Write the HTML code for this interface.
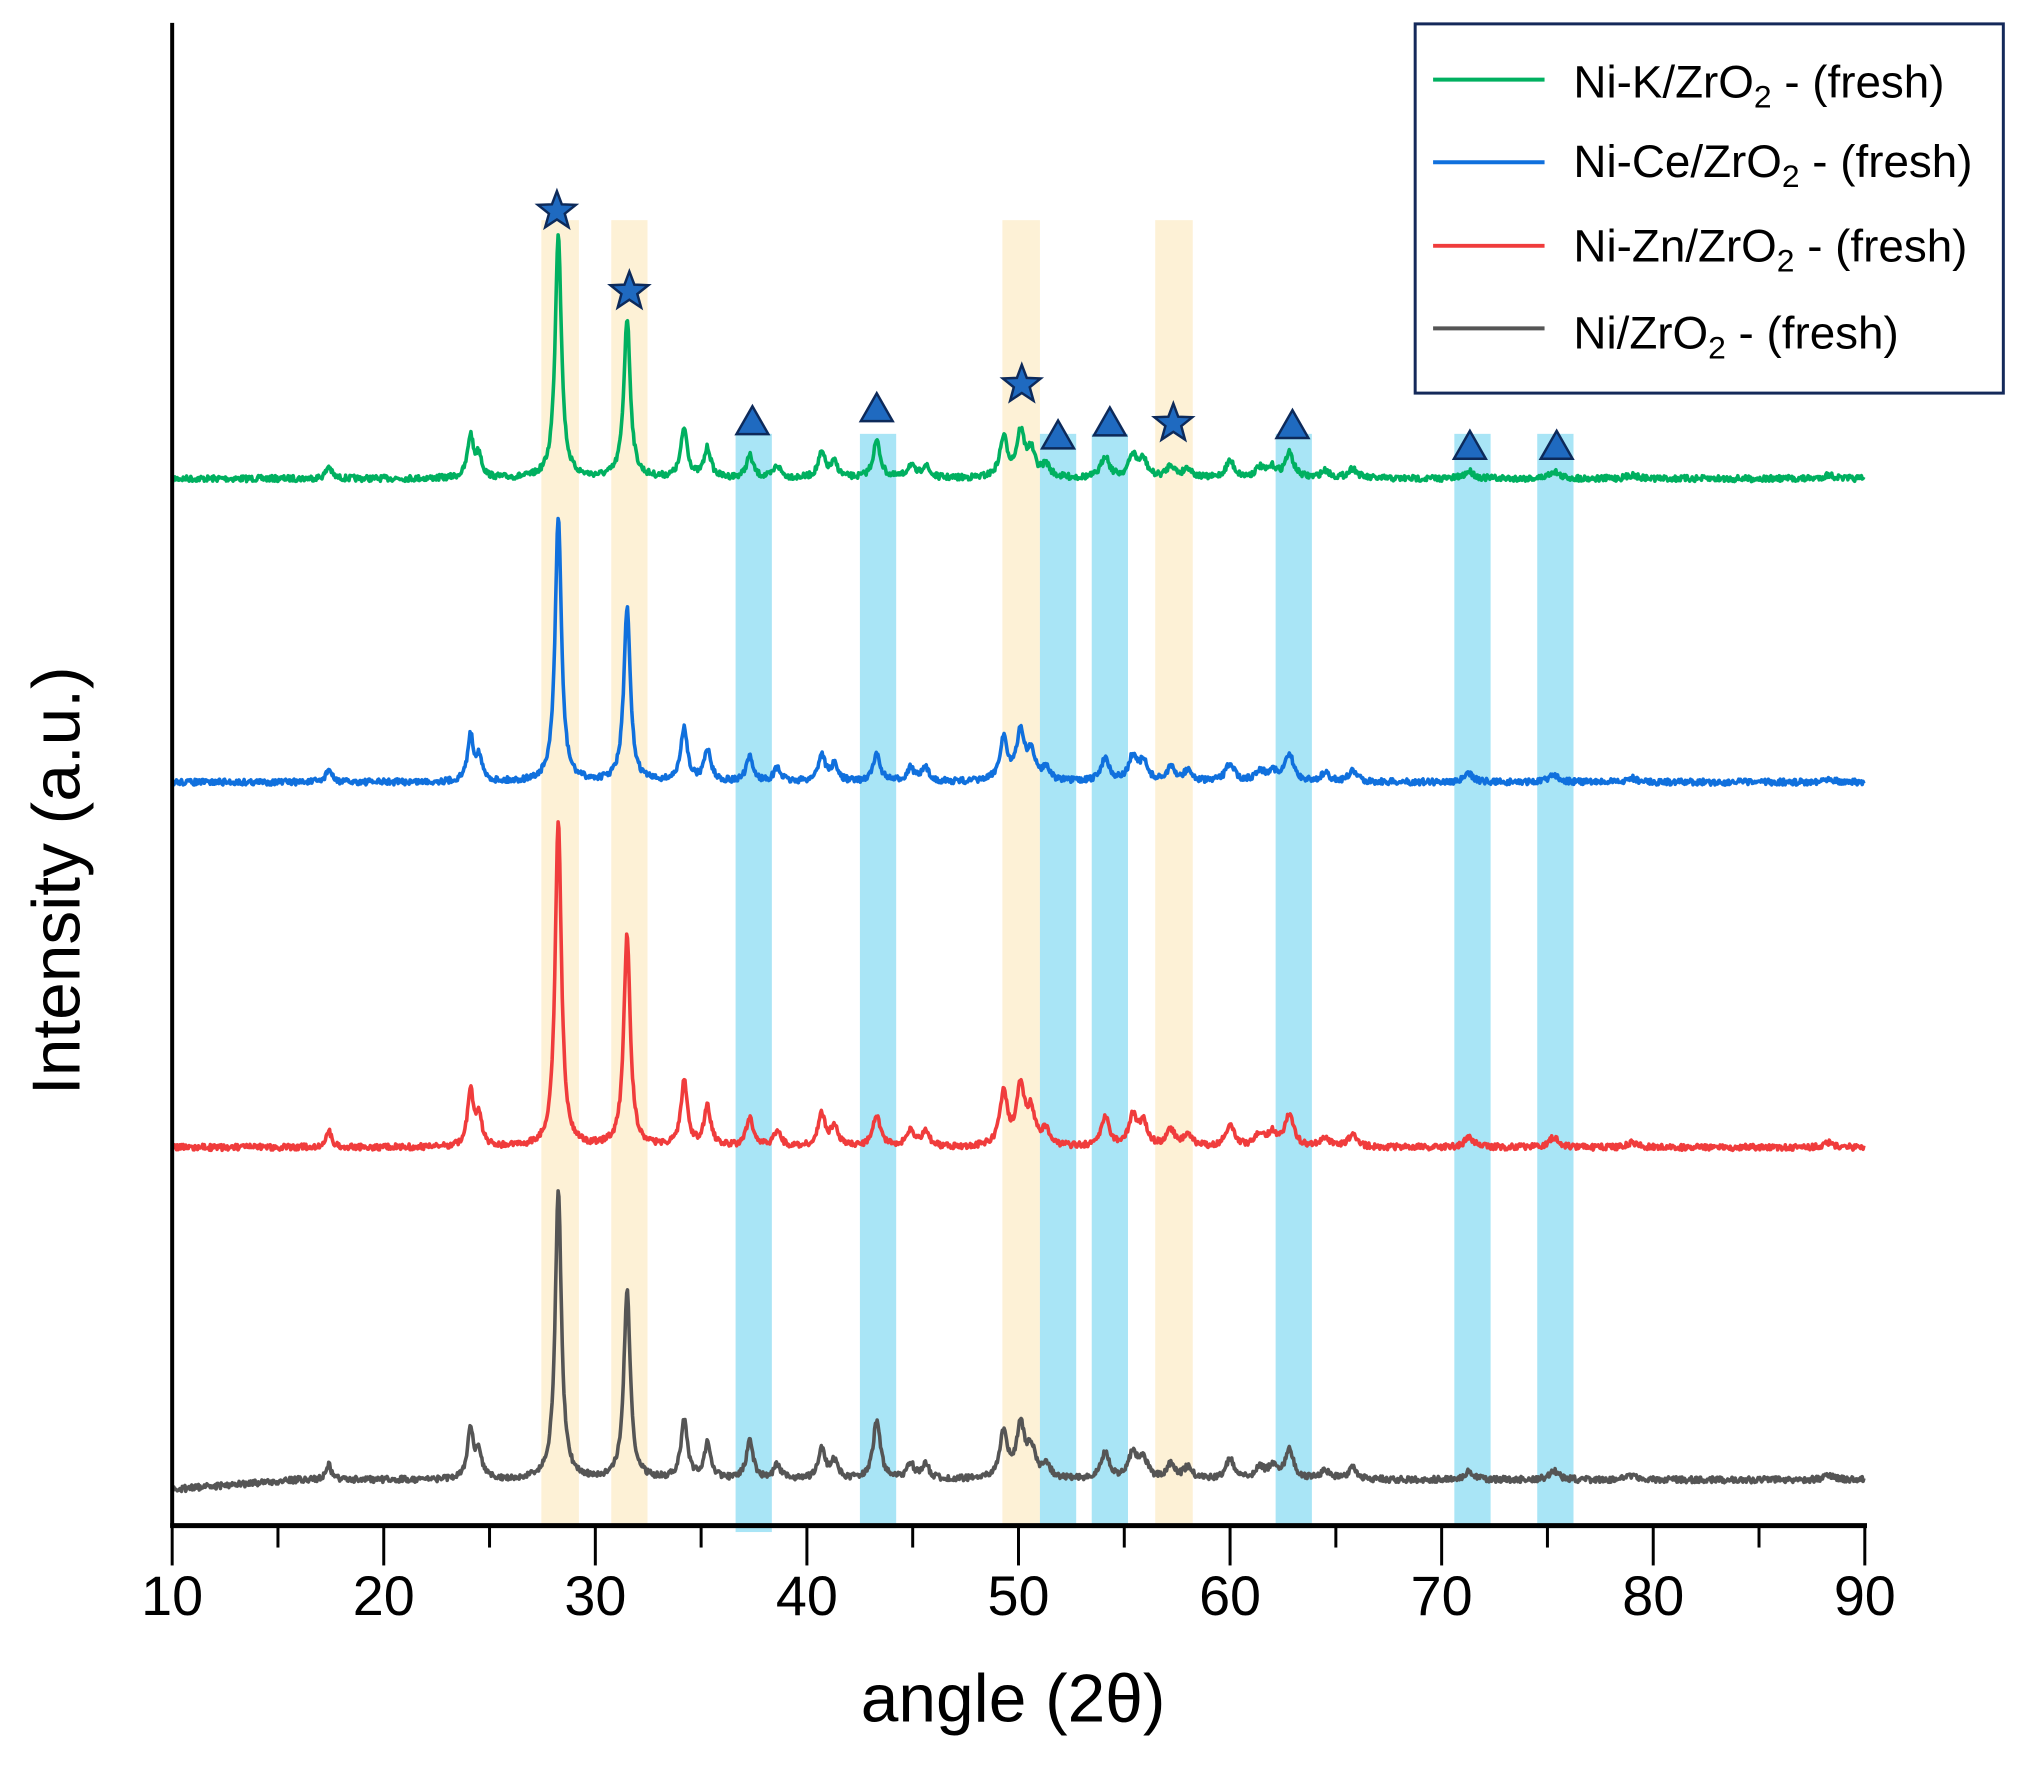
<!DOCTYPE html>
<html><head><meta charset="utf-8"><style>
html,body{margin:0;padding:0;background:#fff;}
svg{display:block;font-family:"Liberation Sans",Arial,sans-serif;}
</style></head><body>
<svg id="s" width="2030" height="1768" viewBox="0 0 2030 1768" xmlns="http://www.w3.org/2000/svg">
<g transform="scale(0.9952)">
<g id="bands"></g>
<g id="lines"></g>
<g id="marks"></g>
<line x1="173" y1="23" x2="173" y2="1535" stroke="#000" stroke-width="4"/>
<line x1="171" y1="1533" x2="1876" y2="1533" stroke="#000" stroke-width="5"/>
<g id="ticks"></g>
<text x="1018" y="1730" font-size="68" text-anchor="middle">angle (2θ)</text>
<text transform="translate(80,885) rotate(-90)" font-size="68" text-anchor="middle">Intensity (a.u.)</text>
<rect x="1422" y="24" width="591" height="371" fill="#fff" stroke="#14295a" stroke-width="3"/>
<g font-size="46">
<line x1="1440" y1="80" x2="1552" y2="80" stroke="#00b060" stroke-width="4"/>
<text x="1581" y="98">Ni-K/ZrO<tspan font-size="32" dy="10">2</tspan><tspan dy="-10"> - (fresh)</tspan></text>
<line x1="1440" y1="163" x2="1552" y2="163" stroke="#1070dd" stroke-width="4"/>
<text x="1581" y="178">Ni-Ce/ZrO<tspan font-size="32" dy="10">2</tspan><tspan dy="-10"> - (fresh)</tspan></text>
<line x1="1440" y1="247" x2="1552" y2="247" stroke="#f03c3c" stroke-width="4"/>
<text x="1581" y="263">Ni-Zn/ZrO<tspan font-size="32" dy="10">2</tspan><tspan dy="-10"> - (fresh)</tspan></text>
<line x1="1440" y1="330" x2="1552" y2="330" stroke="#555" stroke-width="4"/>
<text x="1581" y="350">Ni/ZrO<tspan font-size="32" dy="10">2</tspan><tspan dy="-10"> - (fresh)</tspan></text>
</g>
</g>
</svg>
<script>
var NS="http://www.w3.org/2000/svg";
function el(t,a,p){var e=document.createElementNS(NS,t);for(var k in a)e.setAttribute(k,a[k]);document.getElementById(p).appendChild(e);return e;}
var S=1.3013;
function X(t){return 173+(t-10)*21.26;}
[[418,447],[472,500],[774,803],[892,921]].forEach(function(b){el('rect',{x:b[0]*S,y:170*S,width:(b[1]-b[0])*S,height:(1180-170)*S,fill:'#fdf1d6'},'bands');});
[[568,596,1183],[664,692,1180],[803,831,1180],[843,871,1180],[985,1013,1180],[1123,1151,1180],[1187,1215,1180]].forEach(function(b){el('rect',{x:b[0]*S,y:335*S,width:(b[1]-b[0])*S,height:(b[2]-335)*S,fill:'#a9e5f6'},'bands');});
for(var t=10;t<=90;t+=5){var x=X(t),maj=t%10==0;el('line',{x1:x,y1:1533,x2:x,y2:1533+(maj?40:22),stroke:'#000','stroke-width':3},'ticks');
if(maj){var tx=el('text',{x:x,y:1623,'font-size':56,'text-anchor':'middle'},'ticks');tx.textContent=t;}}
var peaks=[[17.4,.05],[24.1,.17],[24.5,.09],[28.25,1],[31.5,.65],[34.2,.2],[35.3,.12],[37.3,.09],[38.6,.05],[40.7,.1],[41.3,.06],[43.3,.1],[44.9,.05],[45.6,.05],[49.3,.16],[50.1,.18],[50.6,.1],[51.3,.05],[54.1,.09],[55.4,.09],[55.9,.07],[57.2,.05],[58.0,.04],[60.0,.07],[61.4,.04],[62.0,.04],[62.8,.1],[64.5,.03],[65.8,.04],[71.3,.03],[75.3,.03],[79,.015],[88.3,.015]];
var seed=7;function rnd(){seed=(seed*16807)%2147483647;return seed/2147483647;}
var series=[[481,247,'#00b060'],[786,268,'#1070dd'],[1153,328,'#f03c3c'],[1487,292,'#555']];
series.forEach(function(s,i){var d='';for(var t=10;t<=90;t+=0.04){var v=0;peaks.forEach(function(p){var h=p[1];if(i==3&&Math.abs(p[0]-43.3)<.1)h=.2;if(i==0&&Math.abs(p[0]-43.3)<.1)h=.15;if(i==3&&Math.abs(p[0]-37.3)<.1)h=.13;var w=0.12+p[0]*0.002;v+=h/(1+Math.pow((t-p[0])/w,2));});
var y=s[0]-v*s[1]+(rnd()-0.5)*6;if(i==3)y+=Math.max(0,(16-t))*1.6;d+=(d?'L':'M')+X(t).toFixed(1)+','+y.toFixed(1);}
el('path',{d:d,fill:'none',stroke:s[2],'stroke-width':3.6,'stroke-linejoin':'round'},'lines');});
function star(cx,cy,r){var p=[];for(var k=0;k<10;k++){var a=-Math.PI/2+k*Math.PI/5,rr=k%2?r*0.42:r;p.push((cx+rr*Math.cos(a)).toFixed(1)+','+(cy+rr*Math.sin(a)).toFixed(1));}
el('polygon',{points:p.join(' '),fill:'#1f6ac0',stroke:'#0d2a5a','stroke-width':2.5},'marks');}
[[430,163],[486,225],[789,297],[906,327]].forEach(function(m){star(m[0]*S,m[1]*S,20);});
[[581,326],[677,316],[817,337],[857,327],[998,329],[1135,345],[1202,345]].forEach(function(m){var x=m[0]*S,y=m[1]*S;
el('polygon',{points:(x-16)+','+(y+12)+' '+(x+16)+','+(y+12)+' '+x+','+(y-16),fill:'#1f6ac0',stroke:'#0d2a5a','stroke-width':2.5},'marks');});
</script>
</body></html>
